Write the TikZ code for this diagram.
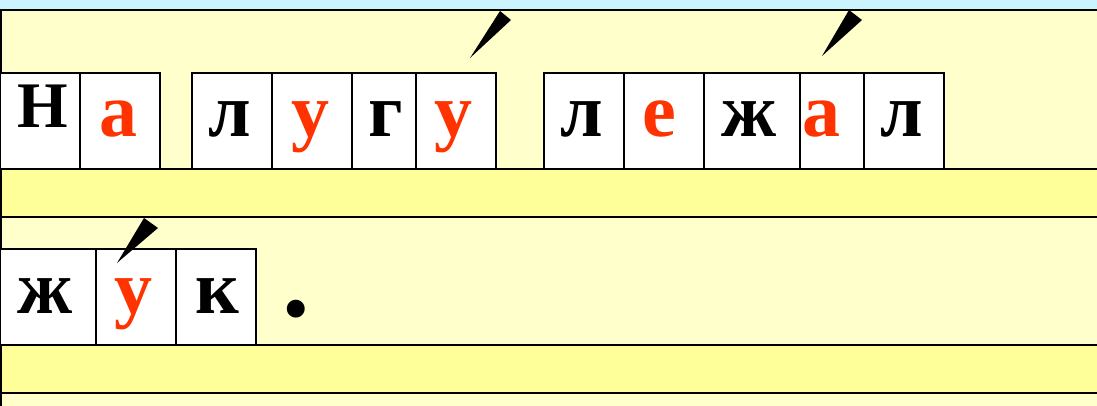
\documentclass[tikz,border=0pt]{standalone}
\usepackage{fontspec}
\setmainfont{Liberation Serif}
\definecolor{vowel}{HTML}{FF3300}
\definecolor{paleyellow}{HTML}{FFFFCC}
\definecolor{lineyellow}{HTML}{FFFF99}
\definecolor{skyband}{HTML}{CCF4FF}
\tikzset{
  band/.style={draw=black, line width=1.6pt},
  cell/.style={draw=black, fill=white, line width=1.6pt, inner sep=0pt, minimum height=96pt},
  glyph/.style={anchor=base, inner sep=0pt, font=\fontsize{76}{76}\selectfont\bfseries},
  vowel/.style={glyph, text=vowel},
  stress/.style={fill=black}
}
\begin{document}
\begin{tikzpicture}[x=1pt, y=-1pt]
    \useasboundingbox (0,0) rectangle (1097,406);
    \clip (0,0) rectangle (1097,406);

    % Draw the ruled bands
    \fill[skyband] (0,0) rectangle (1097,10);
    \draw[band, fill=paleyellow] (0.8,10) rectangle (1120,169);
    \draw[band, fill=lineyellow] (0.8,169) rectangle (1120,217);
    \draw[band, fill=paleyellow] (0.8,217) rectangle (1120,345);
    \draw[band, fill=lineyellow] (0.8,345) rectangle (1120,393);
    \draw[band, fill=paleyellow] (0.8,393) rectangle (1120,430);

    % First line: letter cells
    \node[cell, minimum width=80pt] (c1) at (40,121) {};
    \node[cell, minimum width=80pt] (c2) at (120,121) {};
    \node[cell, minimum width=80pt] (c3) at (232,121) {};
    \node[cell, minimum width=80pt] (c4) at (312,121) {};
    \node[cell, minimum width=64pt] (c5) at (384,121) {};
    \node[cell, minimum width=80pt] (c6) at (456,121) {};
    \node[cell, minimum width=80pt] (c7) at (584,121) {};
    \node[cell, minimum width=80pt] (c8) at (664,121) {};
    \node[cell, minimum width=96pt] (c9) at (752,121) {};
    \node[cell, minimum width=64pt] (c10) at (832,121) {};
    \node[cell, minimum width=80pt] (c11) at (904,121) {};

    % First line: letters
    \node[glyph, font=\fontsize{65}{65}\selectfont\bfseries] (l1) at (43,128) {Н};
    \node[vowel] (l2) at (118,137) {а};
    \node[glyph] (l3) at (230,137) {л};
    \node[vowel] (l4) at (310,137) {у};
    \node[glyph] (l5) at (386,137) {г};
    \node[vowel] (l6) at (453,137) {у};
    \node[glyph] (l7) at (582,137) {л};
    \node[vowel] (l8) at (659,137) {е};
    \node[glyph] (l9) at (749,137) {ж};
    \node[vowel] (l10) at (821,137) {а};
    \node[glyph] (l11) at (902,137) {л};

    % Second line: letter cells
    \node[cell, minimum width=96pt] (d1) at (48,297) {};
    \node[cell, minimum width=80pt] (d2) at (136,297) {};
    \node[cell, minimum width=80pt] (d3) at (216,297) {};

    % Second line: letters and full stop
    \node[glyph] (m1) at (45,313) {ж};
    \node[vowel] (m2) at (133,313) {у};
    \node[glyph] (m3) at (217,313) {к};
    \node[glyph, font=\fontsize{110}{110}\selectfont\bfseries] (dot) at (296,316) {.};

    % Stress marks
    \fill[stress] (470,58) -- ++(30,-47) -- ++(11,9) -- cycle;
    \fill[stress] (822,56) -- ++(27,-46) -- ++(13,10) -- cycle;
    \fill[stress] (117,263) -- ++(27,-45) -- ++(14,10) -- cycle;
\end{tikzpicture}
\end{document}
